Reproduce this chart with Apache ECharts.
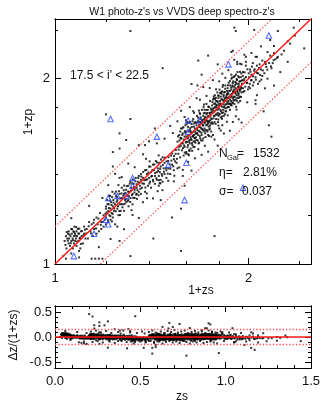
<!DOCTYPE html>
<html><head><meta charset="utf-8">
<script src="https://cdn.jsdelivr.net/npm/echarts@6/dist/echarts.min.js"></script>
<style>html,body{margin:0;padding:0;background:#fff}#c{width:327px;height:409px}</style>
</head><body><div id="c"></div>
<script>
// galaxies as [zs, zp] pairs, grouped by spectroscopic redshift
const binA = [[0.035,0.09],[0.04,0.11],[0.042,0.06],[0.045,0.10],[0.048,0.12],[0.05,0.08],[0.05,0.13],[0.052,0.10],[0.055,0.07],[0.057,0.11],[0.06,0.09],[0.06,0.14],[0.062,0.12],[0.065,0.10],[0.066,0.06],[0.068,0.13],[0.07,0.11],[0.07,0.08],[0.072,0.15],[0.074,0.12],[0.075,0.09],[0.078,0.10],[0.08,0.13],[0.08,0.07],[0.082,0.11],[0.085,0.14],[0.088,0.09],[0.09,0.12],[0.092,0.10],[0.095,0.06],[0.098,0.13],[0.10,0.11],[0.105,0.08],[0.11,0.12],[0.115,0.10],[0.03,0.03],[0.04,0.02],[0.06,0.04],[0.09,0.05],[0.11,0.15]];
const binA2 = [[0.038,0.074],[0.043,0.127],[0.047,0.091],[0.053,0.117],[0.058,0.081],[0.063,0.139],[0.067,0.093],[0.071,0.127],[0.076,0.112],[0.079,0.148],[0.083,0.087],[0.087,0.121],[0.091,0.142],[0.094,0.103],[0.097,0.078],[0.101,0.131],[0.107,0.113],[0.113,0.137],[0.118,0.121],[0.128,0.152],[0.138,0.121],[0.148,0.167],[0.158,0.142],[0.168,0.185],[0.178,0.158],[0.188,0.171],[0.198,0.207]];
const binB = [[0.12,0.14],[0.125,0.10],[0.13,0.17],[0.135,0.13],[0.14,0.16],[0.14,0.02],[0.145,0.11],[0.15,0.18],[0.15,0.14],[0.155,0.02],[0.16,0.12],[0.16,0.19],[0.165,0.16],[0.17,0.02],[0.17,0.13],[0.175,0.21],[0.18,0.17],[0.18,0.14],[0.185,0.02],[0.19,0.20],[0.19,0.15],[0.195,0.18],[0.20,0.16],[0.20,0.23]];
const binC = [[0.20,0.24],[0.20,0.19],[0.205,0.27],[0.21,0.22],[0.21,0.17],[0.212,0.25],[0.215,0.20],[0.218,0.29],[0.22,0.23],[0.22,0.18],[0.222,0.26],[0.225,0.21],[0.228,0.31],[0.23,0.24],[0.23,0.19],[0.232,0.27],[0.235,0.22],[0.24,0.25],[0.24,0.16],[0.245,0.29],[0.25,0.23],[0.25,0.27],[0.255,0.20],[0.26,0.30],[0.26,0.25],[0.265,0.22],[0.27,0.28],[0.27,0.33],[0.275,0.25],[0.28,0.30],[0.28,0.22],[0.285,0.27],[0.29,0.32],[0.29,0.26],[0.295,0.29],[0.30,0.34],[0.30,0.27],[0.305,0.31],[0.31,0.28],[0.31,0.36],[0.315,0.33],[0.32,0.30],[0.32,0.25],[0.325,0.35],[0.33,0.32],[0.33,0.28],[0.335,0.38],[0.34,0.33],[0.34,0.30],[0.345,0.36],[0.35,0.31],[0.35,0.39],[0.355,0.34],[0.36,0.37],[0.36,0.30]];
const binC2 = [[0.203,0.213],[0.207,0.251],[0.209,0.178],[0.213,0.233],[0.217,0.268],[0.219,0.196],[0.224,0.247],[0.227,0.284],[0.229,0.206],[0.233,0.258],[0.236,0.231],[0.238,0.301],[0.243,0.218],[0.247,0.262],[0.249,0.284],[0.253,0.241],[0.257,0.313],[0.259,0.219],[0.263,0.278],[0.267,0.251],[0.269,0.302],[0.273,0.236],[0.277,0.291],[0.279,0.318],[0.283,0.252],[0.287,0.305],[0.289,0.276],[0.293,0.338],[0.297,0.265],[0.299,0.311],[0.303,0.289],[0.307,0.351],[0.309,0.261],[0.313,0.316],[0.317,0.294],[0.319,0.352],[0.323,0.281],[0.327,0.334],[0.329,0.307],[0.333,0.363],[0.337,0.296],[0.339,0.348],[0.343,0.318],[0.347,0.379],[0.349,0.293],[0.353,0.356],[0.357,0.325],[0.214,0.291],[0.226,0.173],[0.244,0.311],[0.262,0.201],[0.281,0.341],[0.301,0.241],[0.321,0.372],[0.341,0.276]];
const binD = [[0.36,0.40],[0.365,0.33],[0.37,0.38],[0.375,0.35],[0.38,0.42],[0.38,0.31],[0.385,0.37],[0.39,0.40],[0.395,0.34],[0.40,0.44],[0.40,0.38],[0.405,0.36],[0.41,0.41],[0.41,0.33],[0.415,0.39],[0.42,0.45],[0.42,0.37],[0.422,0.10],[0.425,0.42],[0.43,0.39],[0.43,0.35],[0.435,0.47],[0.44,0.41],[0.44,0.37],[0.445,0.43],[0.45,0.39],[0.45,0.34],[0.452,0.46],[0.455,0.41],[0.46,0.37],[0.46,0.44],[0.465,0.40],[0.47,0.49],[0.47,0.36],[0.475,0.43],[0.48,0.40],[0.48,0.46],[0.49,0.42],[0.49,0.38],[0.50,0.47],[0.50,0.43],[0.51,0.40],[0.515,0.50],[0.52,0.45],[0.52,0.19],[0.53,0.48],[0.53,0.42],[0.54,0.51],[0.545,0.46],[0.55,0.43]];
const binD2 = [[0.362,0.387],[0.367,0.352],[0.371,0.411],[0.377,0.368],[0.382,0.331],[0.387,0.421],[0.391,0.372],[0.397,0.408],[0.402,0.351],[0.407,0.439],[0.411,0.387],[0.417,0.421],[0.421,0.362],[0.427,0.451],[0.431,0.405],[0.437,0.378],[0.441,0.462],[0.447,0.417],[0.451,0.368],[0.457,0.428],[0.461,0.478],[0.467,0.391],[0.471,0.448],[0.477,0.412],[0.481,0.488],[0.487,0.431],[0.491,0.468],[0.497,0.402],[0.501,0.491],[0.507,0.452],[0.511,0.428],[0.517,0.472],[0.521,0.512],[0.527,0.441],[0.531,0.497],[0.537,0.468],[0.541,0.531],[0.547,0.482],[0.444,0.313],[0.458,0.352],[0.449,0.501],[0.469,0.318],[0.389,0.302],[0.403,0.468],[0.533,0.391]];
const binE1 = [[0.55,0.58],[0.555,0.51],[0.56,0.62],[0.56,0.55],[0.565,0.49],[0.57,0.60],[0.57,0.66],[0.575,0.53],[0.58,0.57],[0.58,0.63],[0.585,0.50],[0.59,0.61],[0.59,0.55],[0.595,0.68],[0.60,0.58],[0.60,0.52],[0.60,0.64],[0.605,0.60],[0.61,0.56],[0.61,0.67],[0.612,0.62],[0.615,0.53],[0.618,0.59],[0.62,0.65],[0.62,0.57],[0.622,0.70],[0.625,0.61],[0.625,0.54],[0.63,0.63],[0.63,0.59],[0.632,0.67],[0.635,0.56],[0.638,0.61],[0.64,0.72],[0.64,0.64],[0.642,0.58],[0.645,0.62],[0.648,0.55],[0.65,0.66],[0.65,0.60],[0.58,0.39],[0.59,0.34],[0.63,0.96],[0.60,0.51]];
const binE2 = [[0.652,0.70],[0.655,0.63],[0.66,0.68],[0.66,0.59],[0.662,0.74],[0.665,0.65],[0.67,0.71],[0.67,0.62],[0.672,0.57],[0.675,0.67],[0.678,0.76],[0.68,0.64],[0.68,0.70],[0.682,0.60],[0.685,0.73],[0.688,0.66],[0.69,0.69],[0.69,0.62],[0.692,0.78],[0.695,0.71],[0.698,0.65],[0.70,0.74],[0.70,0.68],[0.70,0.60],[0.702,0.80],[0.705,0.72],[0.708,0.66],[0.71,0.70],[0.71,0.76],[0.712,0.63],[0.715,0.73],[0.718,0.68],[0.72,0.82],[0.72,0.75],[0.722,0.65],[0.725,0.71],[0.728,0.78],[0.73,0.69],[0.73,0.62],[0.732,0.74],[0.735,0.80],[0.738,0.70],[0.74,0.76],[0.74,0.66],[0.742,0.84],[0.745,0.73],[0.748,0.69],[0.75,0.78],[0.67,1.14],[0.69,1.03],[0.73,1.18],[0.665,0.95]];
const binE3 = [[0.752,0.72],[0.755,0.81],[0.758,0.76],[0.76,0.69],[0.76,0.85],[0.762,0.79],[0.765,0.74],[0.768,0.82],[0.77,0.77],[0.77,0.70],[0.772,0.88],[0.775,0.80],[0.778,0.75],[0.78,0.84],[0.78,0.72],[0.782,0.78],[0.785,0.81],[0.788,0.90],[0.79,0.76],[0.79,0.83],[0.792,0.70],[0.795,0.86],[0.798,0.79],[0.80,0.82],[0.80,0.75],[0.802,0.92],[0.805,0.84],[0.808,0.78],[0.81,0.87],[0.81,0.73],[0.812,0.81],[0.815,0.89],[0.818,0.76],[0.82,0.85],[0.82,0.80],[0.822,0.94],[0.825,0.78],[0.828,0.87],[0.83,0.83],[0.83,0.74],[0.832,0.90],[0.835,0.81],[0.838,0.86],[0.84,0.79],[0.84,0.95],[0.842,0.84],[0.845,0.77],[0.848,0.88],[0.85,0.82],[0.85,0.91],[0.77,0.11],[0.79,1.11],[0.76,0.62],[0.80,0.66],[0.82,0.68]];
const binE4 = [[0.852,0.86],[0.855,0.93],[0.858,0.80],[0.86,0.89],[0.86,0.84],[0.862,0.97],[0.865,0.87],[0.868,0.82],[0.87,0.91],[0.87,0.78],[0.872,0.95],[0.875,0.88],[0.878,0.84],[0.88,1.00],[0.88,0.92],[0.882,0.81],[0.885,0.89],[0.888,0.95],[0.89,0.86],[0.89,0.83],[0.892,0.98],[0.895,0.91],[0.898,0.87],[0.90,0.94],[0.90,0.82],[0.902,1.02],[0.905,0.90],[0.908,0.85],[0.91,0.97],[0.91,0.93],[0.912,0.80],[0.915,0.88],[0.918,0.99],[0.92,0.91],[0.92,0.86],[0.922,1.05],[0.925,0.94],[0.928,0.83],[0.93,0.96],[0.93,0.89],[0.932,1.01],[0.935,0.92],[0.938,0.87],[0.94,0.98],[0.94,0.84],[0.945,0.94],[0.948,1.04],[0.95,0.90],[0.90,1.42],[0.955,0.99],[0.96,0.93],[0.92,1.13],[0.95,1.11]];
const binE5 = [[0.553,0.612],[0.557,0.534],[0.561,0.587],[0.566,0.641],[0.569,0.556],[0.573,0.598],[0.577,0.621],[0.581,0.543],[0.583,0.668],[0.587,0.592],[0.591,0.517],[0.594,0.634],[0.597,0.575],[0.601,0.612],[0.603,0.689],[0.607,0.548],[0.611,0.603],[0.613,0.641],[0.617,0.581],[0.619,0.527],[0.623,0.662],[0.627,0.598],[0.629,0.633],[0.633,0.571],[0.636,0.706],[0.639,0.615],[0.641,0.548],[0.644,0.672],[0.647,0.603],[0.651,0.641],[0.653,0.574],[0.657,0.695],[0.659,0.627],[0.663,0.661],[0.667,0.587],[0.669,0.729],[0.673,0.645],[0.676,0.683],[0.679,0.612],[0.681,0.751],[0.684,0.667],[0.687,0.698],[0.689,0.634],[0.693,0.713],[0.696,0.587],[0.699,0.679],[0.703,0.757],[0.706,0.642],[0.709,0.694],[0.711,0.731],[0.714,0.608],[0.717,0.712],[0.719,0.779],[0.723,0.684],[0.726,0.641],[0.729,0.735],[0.731,0.801],[0.734,0.706],[0.737,0.653],[0.739,0.758],[0.743,0.712],[0.746,0.789],[0.749,0.641],[0.566,0.603],[0.578,0.661],[0.588,0.558],[0.598,0.712],[0.606,0.578],[0.616,0.697],[0.626,0.642],[0.634,0.527],[0.646,0.692],[0.656,0.606],[0.664,0.632],[0.674,0.775],[0.683,0.721],[0.694,0.656],[0.704,0.703],[0.713,0.648],[0.724,0.759],[0.733,0.672],[0.744,0.746],[0.574,0.571],[0.592,0.643],[0.611,0.508],[0.631,0.688],[0.649,0.583],[0.668,0.701],[0.686,0.588],[0.707,0.781],[0.727,0.701],[0.741,0.678]];
const binE6 = [[0.751,0.765],[0.754,0.698],[0.757,0.832],[0.759,0.781],[0.763,0.724],[0.766,0.858],[0.769,0.793],[0.771,0.741],[0.774,0.823],[0.777,0.689],[0.779,0.862],[0.783,0.797],[0.786,0.748],[0.789,0.839],[0.791,0.782],[0.794,0.717],[0.797,0.876],[0.799,0.809],[0.803,0.754],[0.806,0.896],[0.809,0.823],[0.811,0.771],[0.814,0.852],[0.817,0.736],[0.819,0.907],[0.823,0.818],[0.826,0.762],[0.829,0.881],[0.831,0.798],[0.834,0.848],[0.837,0.751],[0.839,0.926],[0.843,0.817],[0.846,0.868],[0.849,0.794],[0.851,0.887],[0.854,0.832],[0.857,0.951],[0.859,0.861],[0.863,0.798],[0.866,0.912],[0.869,0.851],[0.871,0.982],[0.874,0.866],[0.877,0.812],[0.879,0.934],[0.883,0.871],[0.886,0.826],[0.889,0.968],[0.891,0.903],[0.894,0.847],[0.897,1.012],[0.899,0.921],[0.903,0.868],[0.906,0.954],[0.909,0.892],[0.911,1.031],[0.914,0.914],[0.917,0.841],[0.919,0.962],[0.923,0.897],[0.926,1.018],[0.929,0.928],[0.931,0.861],[0.934,0.978],[0.937,0.907],[0.939,1.052],[0.943,0.921],[0.946,0.868],[0.949,0.983],[0.764,0.768],[0.781,0.812],[0.796,0.741],[0.813,0.901],[0.827,0.842],[0.841,0.771],[0.856,0.898],[0.873,0.823],[0.887,0.942],[0.901,0.844],[0.916,0.997],[0.933,0.943],[0.947,0.931],[0.773,0.852],[0.793,0.878],[0.818,0.721],[0.836,0.902],[0.862,0.821],[0.881,0.887],[0.907,0.976],[0.927,0.878],[0.944,1.011]];
const binF = [[0.98,1.13],[1.14,1.21],[1.44,1.24],[1.19,1.26],[1.30,1.13],[1.24,1.05],[1.17,1.08],[1.12,1.13],[1.05,1.17],[1.03,1.12],[1.07,1.04],[0.98,1.10],[1.05,0.82],[1.06,0.88],[1.35,1.42],[1.22,1.39],[1.32,1.28],[1.16,1.18],[1.06,1.17],[1.19,1.20],[0.98,1.17],[1.04,1.40],[0.91,1.39],[0.97,1.00],[0.96,1.05],[0.99,0.97],[1.00,1.04],[1.00,0.94],[1.01,1.07],[1.02,0.99],[1.02,1.03],[1.03,0.95],[1.04,1.06],[1.05,1.01],[1.06,1.10],[1.08,0.98],[1.09,1.07],[1.10,1.02],[1.11,0.77],[1.13,1.09],[1.15,0.68],[1.17,0.61],[1.18,1.12],[1.20,1.15],[1.14,1.00],[1.10,1.14],[1.08,1.11],[0.97,0.91],[1.01,0.93],[1.22,1.17],[1.25,1.19],[1.27,1.22],[1.30,1.30],[1.36,1.35]];
const binF2 = [[0.953,0.962],[0.958,1.021],[0.962,0.903],[0.967,0.987],[0.971,1.048],[0.976,0.941],[0.981,1.012],[0.986,0.968],[0.991,1.071],[0.995,0.921],[1.003,1.011],[1.008,0.962],[1.013,1.053],[1.018,0.987],[1.024,1.092],[1.031,1.018],[1.037,0.973],[1.043,1.072],[1.052,0.992],[1.061,1.043],[1.068,0.962],[1.076,1.081],[1.084,1.028],[1.093,0.993],[1.104,1.062],[1.116,1.041],[1.127,1.112],[1.138,1.068],[1.152,1.121],[1.166,1.094],[1.187,1.143],[1.214,1.162]];
// looser members of the distribution, between the core band and the outlier limits
const binWide = [[0.06,0.187],[0.09,0.025],[0.13,0.243],[0.17,0.065],[0.21,0.343],[0.22,0.098],[0.24,0.401],[0.25,0.15],[0.27,0.384],[0.28,0.139],[0.30,0.456],[0.32,0.201],[0.33,0.436],[0.35,0.188],[0.37,0.507],[0.39,0.279],[0.40,0.582],[0.42,0.278],[0.44,0.57],[0.46,0.27],[0.48,0.598],[0.50,0.365],[0.51,0.676],[0.53,0.362],[0.55,0.705],[0.56,0.435],[0.57,0.774],[0.58,0.422],[0.59,0.733],[0.61,0.465],[0.62,0.798],[0.63,0.418],[0.64,0.771],[0.65,0.485],[0.66,0.859],[0.67,0.536],[0.68,0.848],[0.69,0.504],[0.70,0.938],[0.71,0.556],[0.72,0.875],[0.73,0.522],[0.74,0.931],[0.75,0.61],[0.76,0.989],[0.77,0.593],[0.78,0.922],[0.79,0.557],[0.80,0.98],[0.81,0.647],[0.82,1.038],[0.83,0.629],[0.84,1.006],[0.85,0.702],[0.86,1.065],[0.87,0.646],[0.88,1.03],[0.89,0.701],[0.90,1.147],[0.91,0.738],[0.92,1.112],[0.93,0.718],[0.94,1.115],[0.95,0.697],[0.97,1.187],[0.99,0.831],[1.02,1.202],[1.05,0.845],[1.09,1.257],[1.12,0.929],[1.16,1.311],[1.19,0.949],[0.605,0.701],[0.615,0.502],[0.645,0.76],[0.675,0.574],[0.705,0.816],[0.735,0.614],[0.765,0.871],[0.795,0.678],[0.825,0.953],[0.855,0.744],[0.885,1.008],[0.915,0.781],[0.185,0.28],[0.255,0.343],[0.315,0.223],[0.385,0.482],[0.455,0.353],[0.525,0.632]];
const outliers = [[0.20,0.75],[0.31,0.72],[0.26,0.63],[0.29,0.59],[0.23,0.52],[0.26,0.54],[0.35,0.56],[0.38,0.56],[0.43,0.66],[0.47,1.08],[0.31,1.39],[0.23,0.44],[0.26,0.38],[0.37,0.26],[0.88,1.21],[0.89,1.22],[0.57,0.23],[0.26,0.09],[0.57,0.05],[0.31,0.03]];
// flagged objects drawn as open triangles
const triangles = [[0.07,0.03],[0.15,0.12],[0.20,0.18],[0.21,0.16],[0.21,0.28],[0.25,0.29],[0.29,0.29],[0.32,0.38],[0.32,0.34],[0.22,0.72],[0.44,0.61],[0.50,0.45],[0.60,0.46],[0.61,0.71],[0.68,0.71],[0.61,0.64],[0.59,0.27],[0.86,1.11],[1.15,1.35],[0.96,0.33]];

const logMajor = [1, 2];
const logMinor = [1.2, 1.4, 1.6, 1.8, 2.4];
const dzXMajor = [0, 0.5, 1.0, 1.5];
const dzXMinor = [0.1,0.2,0.3,0.4,0.6,0.7,0.8,0.9,1.1,1.2,1.3,1.4];
const dzYMajor = [-0.5, 0, 0.5];
const dzYMinor = [-0.4,-0.3,-0.2,-0.1,0.1,0.2,0.3,0.4];
const outlierCut = 0.15;
const stats = {n: '1532', eta: '2.81%', sigma: '0.037'};

const galaxies = [].concat(binA, binA2, binB, binC, binC2, binD, binD2, binE1, binE2, binE3, binE4, binE5, binE6, binF, binF2, binWide, outliers);
const topDots = galaxies.map(p => [1 + p[0], 1 + p[1]]);
const topTri = triangles.map(p => [1 + p[0], 1 + p[1]]);
const botDots = galaxies.concat(triangles).map(p => [p[0], (p[1] - p[0]) / (1 + p[0])]);

const FONT = 'Liberation Sans';
const BLACK = '#000';

function mkAxis(type, grid, pos, min, max, ticks, len, labels, fmt, margin) {
  return {
    type: type, gridIndex: grid, position: pos, min: min, max: max,
    axisLine: {show: true, onZero: false, lineStyle: {color: BLACK, width: 1}},
    axisTick: {show: true, inside: true, length: len, customValues: ticks, lineStyle: {color: BLACK, width: 1}},
    axisLabel: labels ? {show: true, customValues: labels, formatter: fmt, margin: margin, color: '#111', fontSize: 13, fontFamily: FONT} : {show: false},
    splitLine: {show: false}, minorTick: {show: false}, axisPointer: {show: false}
  };
}
const fLog = v => String(Math.round(v));
const f1 = v => Number(v).toFixed(1);

const xAxes = [
  mkAxis('log', 0, 'bottom', 1, 2.5, logMajor, 6, logMajor, fLog, 8),
  mkAxis('log', 0, 'bottom', 1, 2.5, logMinor, 3),
  mkAxis('log', 0, 'top', 1, 2.5, logMajor, 6),
  mkAxis('log', 0, 'top', 1, 2.5, logMinor, 3),
  mkAxis('value', 1, 'bottom', 0, 1.5, dzXMajor, 6, dzXMajor, f1, 7),
  mkAxis('value', 1, 'bottom', 0, 1.5, dzXMinor, 3),
  mkAxis('value', 1, 'top', 0, 1.5, dzXMajor, 6),
  mkAxis('value', 1, 'top', 0, 1.5, dzXMinor, 3)
];
const yAxes = [
  mkAxis('log', 0, 'left', 1, 2.5, logMajor, 6, logMajor, fLog, 5),
  mkAxis('log', 0, 'left', 1, 2.5, logMinor, 3),
  mkAxis('log', 0, 'right', 1, 2.5, logMajor, 6),
  mkAxis('log', 0, 'right', 1, 2.5, logMinor, 3),
  mkAxis('value', 1, 'left', -0.62, 0.62, dzYMajor, 6, dzYMajor, f1, 3),
  mkAxis('value', 1, 'left', -0.62, 0.62, dzYMinor, 3),
  mkAxis('value', 1, 'right', -0.62, 0.62, dzYMajor, 6),
  mkAxis('value', 1, 'right', -0.62, 0.62, dzYMinor, 3)
];

const lo = 1 - outlierCut, hi = 1 + outlierCut;
function txt(x, y, s, size, extra) {
  return Object.assign({type: 'text', x: x, y: y, z: 100,
    style: {text: s, fontSize: size, fontFamily: FONT, fill: '#111', align: 'center', verticalAlign: 'middle'}}, extra || {});
}
function txtL(x, y, s, size) {
  return {type: 'text', x: x, y: y, z: 100, style: {text: s, fontSize: size, fontFamily: FONT, fill: '#111', align: 'left', verticalAlign: 'middle'}};
}
const RED = '#ff1a1a', PINK = '#ff4a4a';
const dotted = {color: PINK, width: 1.3, type: [1.3, 2]};

const option = {
  animation: false,
  backgroundColor: '#fff',
  grid: [
    {left: 55, top: 19, width: 256, height: 245},
    {left: 55, top: 306, width: 256, height: 62}
  ],
  xAxis: xAxes,
  yAxis: yAxes,
  series: [
    {type: 'scatter', xAxisIndex: 0, yAxisIndex: 0, data: topDots, symbol: 'rect', symbolSize: 2, itemStyle: {color: '#000'}, clip: true, z: 2},
    {type: 'scatter', xAxisIndex: 0, yAxisIndex: 0, data: topTri, symbol: 'triangle', symbolSize: 5.5, itemStyle: {color: 'rgba(0,0,0,0)', borderColor: '#2a4bff', borderWidth: 1.1}, clip: true, z: 3},
    {type: 'line', xAxisIndex: 0, yAxisIndex: 0, data: [[1, 1], [2.5, 2.5]], symbol: 'none', lineStyle: {color: RED, width: 1.5}, z: 4, silent: true},
    {type: 'line', xAxisIndex: 0, yAxisIndex: 0, data: [[1, hi], [2.5 / hi, 2.5]], symbol: 'none', lineStyle: dotted, z: 4, silent: true},
    {type: 'line', xAxisIndex: 0, yAxisIndex: 0, data: [[1 / lo, 1], [2.5, 2.5 * lo]], symbol: 'none', lineStyle: dotted, z: 4, silent: true},
    {type: 'scatter', xAxisIndex: 4, yAxisIndex: 4, data: botDots, symbol: 'rect', symbolSize: 2, itemStyle: {color: '#000'}, clip: true, z: 2},
    {type: 'line', xAxisIndex: 4, yAxisIndex: 4, data: [[0, 0], [1.5, 0]], symbol: 'none', lineStyle: {color: RED, width: 1.5}, z: 4, silent: true},
    {type: 'line', xAxisIndex: 4, yAxisIndex: 4, data: [[0, outlierCut], [1.5, outlierCut]], symbol: 'none', lineStyle: dotted, z: 4, silent: true},
    {type: 'line', xAxisIndex: 4, yAxisIndex: 4, data: [[0, -outlierCut], [1.5, -outlierCut]], symbol: 'none', lineStyle: dotted, z: 4, silent: true}
  ],
  graphic: [
    txt(182, 12, "W1 photo-z's vs VVDS deep spectro-z's", 10.5),
    txt(201, 291, '1+zs', 12),
    txt(29, 122, '1+zp', 12, {rotation: Math.PI / 2}),
    txt(14, 335, 'Δz/(1+zs)', 12, {rotation: Math.PI / 2}),
    txt(182, 397, 'zs', 12),
    txtL(70, 76, "17.5 < i' < 22.5", 12),
    txtL(219, 154, 'N', 12),
    txtL(227, 158, 'Gal', 7.5),
    txtL(237, 154, '=', 12),
    txtL(253, 154, stats.n, 12),
    txtL(219, 173, 'η=', 12),
    txtL(243, 173, stats.eta, 12),
    txtL(219, 192, 'σ=', 12),
    txtL(242, 192, stats.sigma, 12)
  ]
};
const chart = echarts.init(document.getElementById('c'), null, {renderer: 'canvas'});
chart.setOption(option);
</script></body></html>
